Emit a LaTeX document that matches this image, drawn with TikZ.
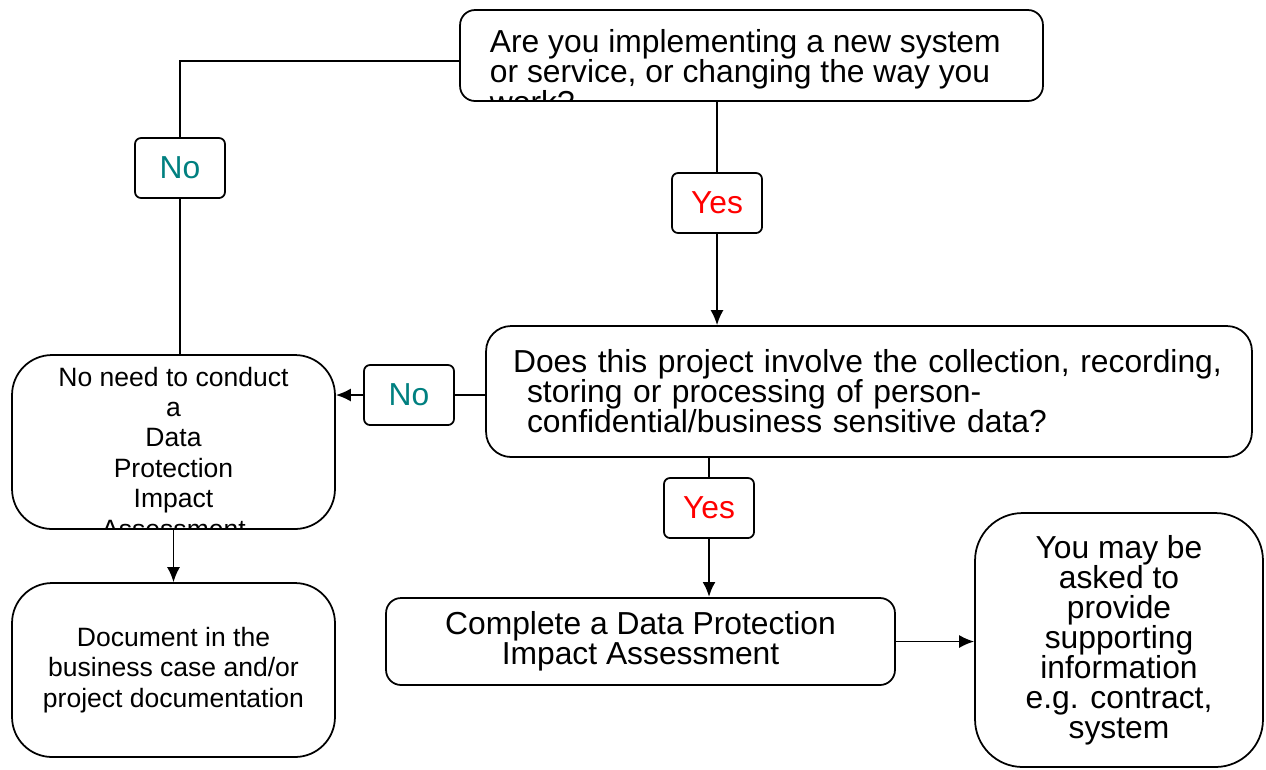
\documentclass[tikz,border=0pt]{standalone}
\usepackage{fontspec}
\setmainfont{Liberation Sans}
\usepackage{tikz}
\usetikzlibrary{arrows.meta}
\newcommand{\bigtxt}{\fontsize{18.1}{17.1}\selectfont}
\newcommand{\smalltxt}{\fontsize{15.1}{17.3}\selectfont}
\definecolor{noteal}{RGB}{0,128,128}
\definecolor{yesred}{RGB}{255,0,0}

\begin{document}
\begin{tikzpicture}[x=0.02cm,y=-0.02cm,>={Latex[length=0.3cm,width=0.26cm]},line width=1pt,
    box/.style={draw,rounded corners=#1,inner sep=0pt},
    cliptext/.style={anchor=#1,inner sep=0pt,minimum width=0pt,minimum height=0pt},
    lbl/.style={draw,fill=white,rounded corners=0.12cm,minimum width=1.8cm,
      minimum height=1.2cm,inner sep=0pt,font=\bigtxt}]
      \useasboundingbox (0,0) rectangle (1266,769);

      \node[box=0.3cm,minimum width=11.66cm,minimum height=1.82cm,
        path picture={\node[cliptext=north west,align=left,font=\bigtxt]
          at ([shift={(29,19)}]path picture bounding box.north west)
          {Are you implementing a new system\\or service, or changing the way you\\work?};}] (1) at (751.5,55.5) {};
      \node[box=0.5cm,minimum width=15.32cm,minimum height=2.62cm,inner xsep=0.54cm,
        text width=14.24cm,align=left,font=\bigtxt] (2) at (869,391.5)
        {Does this project involve the collection, recording,\\
         \hspace*{0.28cm}storing or processing of person-\\
         \hspace*{0.28cm}confidential/business sensitive data?};
      \node[box=0.8cm,minimum width=6.46cm,minimum height=3.48cm,
        path picture={\node[cliptext=north,align=center,font=\smalltxt]
          at ([shift={(0,11)}]path picture bounding box.north)
          {No need to conduct\\a\\Data\\Protection\\Impact\\Assessment};}] (3) at (173.5,442) {};
      \node[box=0.8cm,minimum width=6.46cm,minimum height=3.48cm,align=center,
        font=\smalltxt] (4) at (173.5,670)
        {Document in the\\business case and/or\\project documentation};
      \node[box=0.3cm,minimum width=10.18cm,minimum height=1.74cm,align=center,
        font=\bigtxt] (5) at (640.5,641.5) {Complete a Data Protection\\Impact Assessment};
      \node[box=0.95cm,minimum width=5.76cm,minimum height=5.08cm,align=center,
        font=\bigtxt] (6) at (1119,640)
        {You may be\\asked to\\provide\\supporting\\information\\e.g. contract,\\system};

      \node[lbl,text=noteal] (7) at (180,168) {No};
      \node[lbl,text=yesred] (8) at (717,203) {Yes};
      \node[lbl,text=noteal] (9) at (409,395) {No};
      \node[lbl,text=yesred] (10) at (709,508) {Yes};
      \coordinate (c1) at (180,61);

      \draw (c1 -| 1.west) -- (c1) -- (7);
      \draw (7) -- (7 |- 3.north);
      \draw (1.south -| 8) -- (8);
      \draw[->] (8) -- (8 |- 2.north);
      \draw (2.west |- 9) -- (9);
      \draw[->] (9) -- (9 -| 3.east);
      \draw (2.south -| 10) -- (10);
      \draw[->,line width=1.6pt] (10) -- (10 |- 5.north);
      \draw[->] (5.east) -- (6.west |- 5.east);
      \draw[->] (3.south) -- (4.north);
    \end{tikzpicture}
\end{document}
